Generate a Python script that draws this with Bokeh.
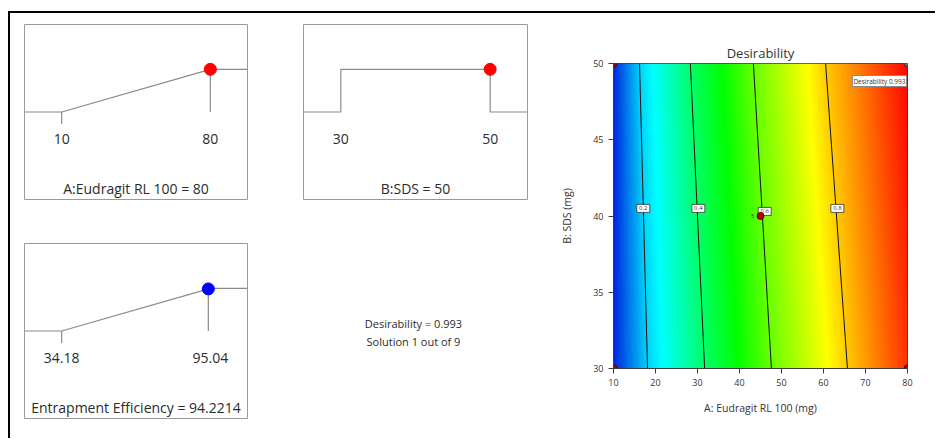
import numpy as np
from bokeh.plotting import figure
from bokeh.models import Range1d, LinearColorMapper, Label, FixedTicker, Div, Spacer
from bokeh.layouts import row, column
from bokeh.embed import file_html
from bokeh.resources import INLINE
from bokeh.core.properties import value

FONT = "Open Sans"
TXT = "#2b2b2b"

# ---------------- data ----------------
A_NAME = "A:Eudragit RL 100"
A_LIMITS = [10, 80]
A_VALUE = 80
A_TICK_LABELS = ["10", "80"]

B_NAME = "B:SDS"
B_LIMITS = [30, 50]
B_VALUE = 50
B_TICK_LABELS = ["30", "50"]

EE_NAME = "Entrapment Efficiency"
EE_LIMITS = [34.18, 95.04]
EE_VALUE = 94.2214
EE_TICK_LABELS = ["34.18", "95.04"]

DESIRABILITY = 0.993
SOLUTION_NO = 1
SOLUTIONS_TOTAL = 9

# contour plot (A on x, B on y)
X_TICKS = [10, 20, 30, 40, 50, 60, 70, 80]
Y_TICKS = [30, 35, 40, 45, 50]
CONTOUR_LEVELS = [0.2, 0.4, 0.6, 0.8]
CONTOUR_B = [30, 50]
CONTOUR_A_AT_B30 = [18.1, 31.7, 47.6, 65.7]
CONTOUR_A_AT_B50 = [16.2, 28.3, 43.3, 60.5]
EDGE_D_AT_A10 = [0.0, 0.0]      # at B=30, B=50
EDGE_D_AT_A80 = [0.95, 0.993]   # at B=30, B=50
LEVEL_LABEL_A = [17.1, 30.2, 46.0, 63.3]
LEVEL_LABEL_B = [40.5, 40.5, 40.3, 40.5]
DESIGN_A = [10, 10, 80]
DESIGN_B = [30, 50, 30]
CENTER_A = [45]
CENTER_B = [40]
CENTER_REPS = ["5"]
OPT_A = [80]
OPT_B = [50]
COLOR_STOPS = [0.0, 0.25, 0.5, 0.75, 1.0]
COLOR_HEX = ["#0028e0", "#00ffff", "#00ff00", "#ffff00", "#ff0000"]


def bar(w, h):
    """A solid black bar (the page's border line)."""
    return Div(text="", width=w, height=h, margin=(0, 0, 0, 0),
               styles={"background-color": "black"})


def ramp_panel(limits, val, kind, tick_labels, title, dot_color,
               w, h, ml, mr, mt, mb):
    lo, hi = limits
    pad = 0.25 * (hi - lo)
    x0, x1 = lo - pad, hi + pad
    p = figure(width=w, height=h, x_range=Range1d(x0, x1), y_range=Range1d(-2.05, 2.05),
               x_axis_type=None, y_axis_type=None, toolbar_location=None,
               output_backend="svg", min_border_left=ml, min_border_right=mr,
               min_border_top=mt, min_border_bottom=mb)
    p.outline_line_color = "#9a9a9a"
    p.outline_line_width = 1
    p.background_fill_color = "white"
    p.border_fill_color = "white"
    line_col = "#8a8a8a"
    if kind == "ramp":
        d = (val - lo) / (hi - lo)
        p.line([x0, lo, hi, x1], [0, 0, 1, 1], line_color=line_col, line_width=1.2)
        p.segment(x0=[lo], y0=[0], x1=[lo], y1=[-0.28], line_color=line_col, line_width=1.2)
        p.segment(x0=[val], y0=[d], x1=[val], y1=[0], line_color=line_col, line_width=1.2)
    else:
        d = 1.0
        p.line([x0, lo, lo, hi, hi, x1], [0, 0, 1, 1, 0, 0], line_color=line_col, line_width=1.2)
    p.scatter([val], [d], size=12, fill_color=dot_color, line_color=dot_color)
    p.text(x=[lo, hi], y=[-0.64, -0.64], text=tick_labels, text_font=value(FONT),
           text_font_size="14px", text_align="center", text_baseline="middle",
           text_color=TXT)
    p.text(x=[(x0 + x1) / 2], y=[-1.79], text=[title], text_font=value(FONT),
           text_font_size="14px", text_align="center", text_baseline="middle",
           text_color=TXT)
    return p


fig1 = ramp_panel(A_LIMITS, A_VALUE, "ramp", A_TICK_LABELS,
                  f"{A_NAME} = {A_VALUE}", "#ff0000", 270, 207, 14, 33, 11, 21)
fig3 = ramp_panel(EE_LIMITS, EE_VALUE, "ramp", EE_TICK_LABELS,
                  f"{EE_NAME} = {EE_VALUE}", "#0000ff", 270, 211, 14, 33, 23, 13)
fig2 = ramp_panel(B_LIMITS, B_VALUE, "range", B_TICK_LABELS,
                  f"{B_NAME} = {B_VALUE}", "#ff0000", 275, 207, 23, 28, 11, 21)

ftext = figure(width=275, height=211, x_range=Range1d(0, 1), y_range=Range1d(0, 1),
               x_axis_type=None, y_axis_type=None, toolbar_location=None,
               output_backend="svg", min_border_left=0, min_border_right=0,
               min_border_top=0, min_border_bottom=0)
ftext.outline_line_color = None
ftext.text(x=[0.491, 0.491], y=[0.512, 0.427],
           text=[f"Desirability = {DESIRABILITY}", f"Solution {SOLUTION_NO} out of {SOLUTIONS_TOTAL}"],
           text_font=value(FONT), text_font_size="11px", text_align="center",
           text_baseline="middle", text_color=TXT)

# ---------------- contour plot ----------------
pc = figure(width=375, height=418, x_range=Range1d(A_LIMITS[0], A_LIMITS[1]),
            y_range=Range1d(B_LIMITS[0], B_LIMITS[1]), toolbar_location=None,
            output_backend="svg", title="Desirability",
            min_border_left=58, min_border_right=23, min_border_top=50, min_border_bottom=63)
pc.title.align = "center"
pc.title.text_font = FONT
pc.title.text_font_size = "13px"
pc.title.text_font_style = "normal"
pc.title.text_color = "#333333"
pc.title.standoff = 3
pc.grid.visible = False
pc.outline_line_color = "#3a3a3a"
pc.border_fill_color = "white"

cols = np.array([[int(hx[i:i + 2], 16) for i in (1, 3, 5)] for hx in COLOR_HEX], dtype=float)
palette = []
for tt in np.linspace(0, 1, 256):
    rgb = [int(round(np.interp(tt, COLOR_STOPS, cols[:, k]))) for k in range(3)]
    palette.append("#%02x%02x%02x" % tuple(rgb))
mapper = LinearColorMapper(palette=palette, low=0, high=1)

nx, ny = 400, 120
a_grid = np.linspace(A_LIMITS[0], A_LIMITS[1], nx)
b_grid = np.linspace(B_LIMITS[0], B_LIMITS[1], ny)
D = np.empty((ny, nx))
for j, b in enumerate(b_grid):
    lev_a = [np.interp(b, CONTOUR_B, [c30, c50]) for c30, c50 in zip(CONTOUR_A_AT_B30, CONTOUR_A_AT_B50)]
    dl = np.interp(b, CONTOUR_B, EDGE_D_AT_A10)
    dr = np.interp(b, CONTOUR_B, EDGE_D_AT_A80)
    D[j] = np.interp(a_grid, [A_LIMITS[0]] + lev_a + [A_LIMITS[1]], [dl] + CONTOUR_LEVELS + [dr])

pc.image(image=[D], x=A_LIMITS[0], y=B_LIMITS[0], dw=A_LIMITS[1] - A_LIMITS[0],
         dh=B_LIMITS[1] - B_LIMITS[0], color_mapper=mapper)

pc.multi_line(xs=[[c30, c50] for c30, c50 in zip(CONTOUR_A_AT_B30, CONTOUR_A_AT_B50)],
              ys=[CONTOUR_B for _ in CONTOUR_LEVELS], line_color="#111111", line_width=1)

pc.rect(x=LEVEL_LABEL_A, y=LEVEL_LABEL_B, width=13, height=8, width_units="screen",
        height_units="screen", fill_color="white", line_color="#333333", line_width=0.8)
pc.text(x=LEVEL_LABEL_A, y=LEVEL_LABEL_B, text=[f"{l:.1f}" for l in CONTOUR_LEVELS],
        text_font=value(FONT), text_font_size="6px", text_align="center",
        text_baseline="middle", text_color="#333333")

pc.scatter(DESIGN_A, DESIGN_B, size=7, fill_color="#b00000", line_color="#5a0000")
pc.scatter(CENTER_A, CENTER_B, size=7, fill_color="#b00000", line_color="#5a0000")
pc.text(x=CENTER_A, y=CENTER_B, text=CENTER_REPS, x_offset=-6, text_font=value(FONT),
        text_font_size="6px", text_align="right", text_baseline="middle", text_color="#333333")
pc.scatter(OPT_A, OPT_B, size=7, fill_color="#6a6a78", line_color="#2a2a2a")

flag = Label(x=OPT_A[0], y=OPT_B[0], x_offset=-1, y_offset=-12,
             text=f"Desirability {DESIRABILITY}", text_font=FONT, text_font_size="6.5px",
             text_align="right", text_baseline="top", text_color="#333333",
             background_fill_color="white", border_line_color="#888888", padding=1)
pc.add_layout(flag)

pc.xaxis.ticker = FixedTicker(ticks=X_TICKS)
pc.yaxis.ticker = FixedTicker(ticks=Y_TICKS)
for ax in (pc.xaxis, pc.yaxis):
    ax.major_tick_out = 5
    ax.major_tick_in = 0
    ax.minor_tick_out = 0
    ax.minor_tick_in = 0
    ax.axis_line_color = "#3a3a3a"
    ax.major_tick_line_color = "#3a3a3a"
    ax.major_label_text_font = FONT
    ax.major_label_text_font_size = "9px"
    ax.major_label_text_color = "#333333"
    ax.major_label_standoff = 5
    ax.axis_label_text_font = FONT
    ax.axis_label_text_font_size = "10.5px"
    ax.axis_label_text_font_style = "normal"
    ax.axis_label_text_color = "#333333"
pc.xaxis.axis_label = "A: Eudragit RL 100 (mg)"
pc.yaxis.axis_label = "B: SDS (mg)"
pc.xaxis.axis_label_standoff = 12
pc.yaxis.axis_label_standoff = 16

# ---------------- layout ----------------
top = row(Spacer(width=8, height=2, margin=0), bar(927, 2))
body = row(Spacer(width=8, height=425, margin=0), bar(2, 425),
           column(fig1, fig3), column(fig2, ftext), pc)
layout = column(Spacer(width=935, height=11, margin=0), top, body)

open("out.html", "w").write(file_html(layout, INLINE))
